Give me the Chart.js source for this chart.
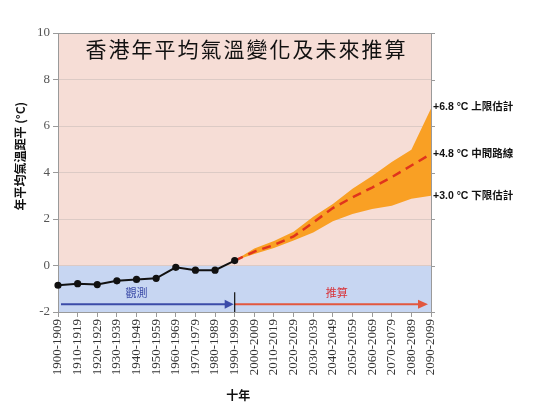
<!DOCTYPE html>
<html>
<head>
<meta charset="utf-8">
<script src="https://cdn.jsdelivr.net/npm/chart.js@4.4.1/dist/chart.umd.min.js"></script>
<style>
html,body{margin:0;padding:0;background:#fff;}
#wrap{width:550px;height:413px;position:relative;}
</style>
</head>
<body>
<div id="wrap"><canvas id="c" width="550" height="413"></canvas></div>
<script>
const categories = ["1900-1909","1910-1919","1920-1929","1930-1939","1940-1949","1950-1959","1960-1969","1970-1979","1980-1989","1990-1999","2000-2009","2010-2019","2020-2029","2030-2039","2040-2049","2050-2059","2060-2069","2070-2079","2080-2089","2090-2099"];
const observed = [-0.85,-0.78,-0.82,-0.66,-0.6,-0.55,-0.08,-0.2,-0.2,0.21,null,null,null,null,null,null,null,null,null,null];
const median   = [null,null,null,null,null,null,null,null,null,0.21,0.6,0.88,1.25,1.85,2.47,2.93,3.35,3.8,4.3,4.8];
const upper    = [null,null,null,null,null,null,null,null,null,0.21,0.73,1.05,1.45,2.1,2.65,3.3,3.85,4.45,4.98,6.75];
const lower    = [null,null,null,null,null,null,null,null,null,0.21,0.5,0.75,1.08,1.42,1.9,2.22,2.43,2.57,2.87,3.0];
const yTicks = [-2,0,2,4,6,8,10];
const title = "香港年平均氣溫變化及未來推算";
const yTitle = "年平均氣溫距平 (°C)";
const xTitle = "十年";
const obsLabel = "觀測";
const projLabel = "推算";
const endLabels = [
  {v: 6.8, text: "+6.8 °C 上限估計"},
  {v: 4.8, text: "+4.8 °C 中間路線"},
  {v: 3.0, text: "+3.0 °C 下限估計"}
];
const splitIndex = 9;

const cjkBold = '"Liberation Sans","Noto Sans CJK TC",sans-serif';

const decor = {
  id: 'decor',
  beforeDraw(chart) {
    const {ctx, chartArea: a, scales: {x, y}} = chart;
    const y0 = y.getPixelForValue(0);
    ctx.save();
    ctx.fillStyle = '#F6DDD6';
    ctx.fillRect(a.left, a.top, a.right - a.left, y0 - a.top);
    ctx.fillStyle = '#C7D6F2';
    ctx.fillRect(a.left, y0, a.right - a.left, a.bottom - y0);
    ctx.restore();
  },
  afterDatasetsDraw(chart) {
    const {ctx, chartArea: a, scales: {x, y}} = chart;
    ctx.save();
    ctx.strokeStyle = '#9a9a9a';
    ctx.lineWidth = 1;
    ctx.beginPath();
    ctx.moveTo(a.right + 0.5, a.top);
    ctx.lineTo(a.right + 0.5, a.bottom);
    yTicks.forEach(v => {
      const py = Math.round(y.getPixelForValue(v)) + 0.5;
      ctx.moveTo(a.right, py);
      ctx.lineTo(a.right + 4, py);
    });
    ctx.stroke();
    ctx.beginPath();
    ctx.moveTo(a.left, a.top + 0.5);
    ctx.lineTo(a.right, a.top + 0.5);
    ctx.stroke();

    const ay = y.getPixelForValue(-1.67);
    const xs = x.getPixelForValue(0) + 3;
    const xm = x.getPixelForValue(splitIndex);
    const xe = x.getPixelForValue(categories.length - 1) - 3;
    ctx.lineWidth = 2;
    ctx.strokeStyle = '#3B4BA8';
    ctx.fillStyle = '#3B4BA8';
    ctx.beginPath(); ctx.moveTo(xs, ay); ctx.lineTo(xm - 8, ay); ctx.stroke();
    ctx.beginPath(); ctx.moveTo(xm - 1, ay); ctx.lineTo(xm - 10, ay - 4.5); ctx.lineTo(xm - 10, ay + 4.5); ctx.closePath(); ctx.fill();
    ctx.strokeStyle = '#E2573F';
    ctx.fillStyle = '#E2573F';
    ctx.beginPath(); ctx.moveTo(xm, ay); ctx.lineTo(xe - 8, ay); ctx.stroke();
    ctx.beginPath(); ctx.moveTo(xe, ay); ctx.lineTo(xe - 10, ay - 4.5); ctx.lineTo(xe - 10, ay + 4.5); ctx.closePath(); ctx.fill();
    ctx.strokeStyle = '#111';
    ctx.lineWidth = 1.2;
    ctx.beginPath(); ctx.moveTo(xm, ay - 12); ctx.lineTo(xm, a.bottom); ctx.stroke();

    ctx.font = '11px "Noto Sans CJK TC"';
    ctx.textAlign = 'center';
    ctx.textBaseline = 'middle';
    ctx.fillStyle = '#3B4BA8';
    ctx.fillText(obsLabel, (x.getPixelForValue(3) + x.getPixelForValue(5)) / 2, ay - 12);
    ctx.fillStyle = '#D8343A';
    ctx.fillText(projLabel, x.getPixelForValue(14) + 4, ay - 12);

    // title
    ctx.fillStyle = '#111';
    ctx.font = '21px "Noto Sans CJK TC"';
    ctx.letterSpacing = '2px';
    ctx.fillText(title, (a.left + a.right) / 2 + 2, y.getPixelForValue(9.3));
    ctx.letterSpacing = '0px';

    // end labels
    ctx.font = 'bold 10.5px ' + cjkBold;
    ctx.textAlign = 'left';
    ctx.fillStyle = '#111';
    endLabels.forEach(l => {
      ctx.fillText(l.text, a.right + 2, y.getPixelForValue(l.v));
    });

    // axis titles
    ctx.font = 'bold 12px "Noto Sans CJK TC"';
    ctx.textAlign = 'center';
    ctx.fillText(xTitle, a.left + (a.right - a.left) * 0.483, 395);
    ctx.translate(20, y.getPixelForValue(4.7));
    ctx.rotate(-Math.PI / 2);
    ctx.fillText(yTitle, 0, 0);
    ctx.restore();
  }
};

new Chart(document.getElementById('c'), {
  type: 'line',
  data: {
    labels: categories,
    datasets: [
      {
        label: 'observed',
        data: observed,
        borderColor: '#111',
        backgroundColor: '#111',
        borderWidth: 2,
        pointRadius: 2.6,
        pointHoverRadius: 2.6,
        fill: false,
        tension: 0
      },
      {
        label: 'median',
        data: median,
        borderColor: '#E0341C',
        borderWidth: 2.5,
        borderDash: [9, 6],
        pointRadius: 0,
        fill: false,
        tension: 0
      },
      {
        label: 'upper',
        data: upper,
        borderColor: 'rgba(0,0,0,0)',
        borderWidth: 0,
        backgroundColor: '#F9A024',
        pointRadius: 0,
        fill: '+1',
        tension: 0
      },
      {
        label: 'lower',
        data: lower,
        borderColor: 'rgba(0,0,0,0)',
        borderWidth: 0,
        pointRadius: 0,
        fill: false,
        tension: 0
      }
    ]
  },
  options: {
    responsive: false,
    animation: false,
    events: [],
    layout: { padding: { left: 8, right: 119, top: 33, bottom: 9 } },
    plugins: { legend: { display: false }, tooltip: { enabled: false } },
    scales: {
      x: {
        offset: false,
        grid: { display: true, drawOnChartArea: false, tickLength: 5, color: '#9a9a9a' },
        border: { color: '#9a9a9a' },
        ticks: {
          minRotation: 90, maxRotation: 90, autoSkip: false,
          color: '#333', padding: 2,
          font: { family: 'Liberation Serif', size: 13 }
        },
        title: { display: false },
        afterFit(s) { s.height = 92; }
      },
      y: {
        min: -2, max: 10,
        afterBuildTicks(s) { s.ticks = yTicks.map(v => ({ value: v })); },
        grid: { color: '#DCCAC5', tickLength: 5, tickColor: '#9a9a9a' },
        border: { color: '#9a9a9a' },
        ticks: {
          color: '#555', padding: 3,
          font: { family: 'Liberation Serif', size: 13 }
        },
        title: { display: false },
        afterFit(s) { s.width = 50; }
      }
    }
  },
  plugins: [decor]
});
</script>
</body>
</html>
